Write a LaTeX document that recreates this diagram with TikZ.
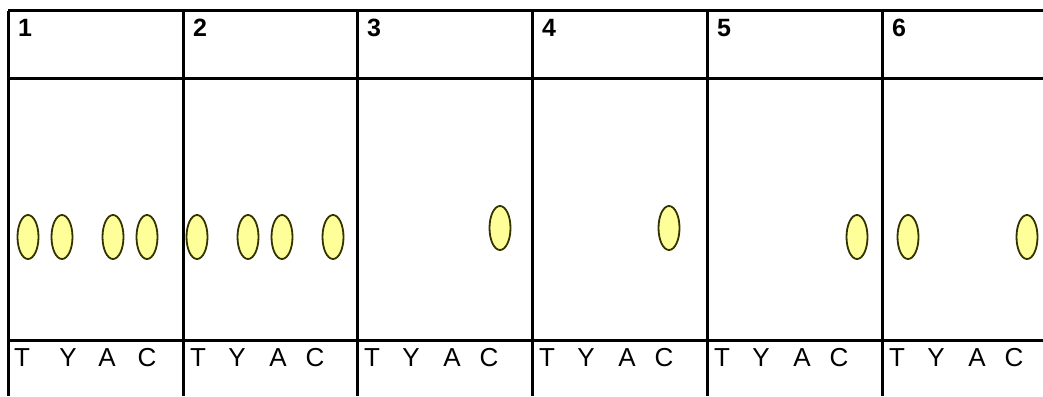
\documentclass[tikz,border=0pt]{standalone}
\usepackage{fontspec}
\setmainfont{Liberation Sans}
\usetikzlibrary{shapes.geometric}
\definecolor{dotfill}{HTML}{FFFF99}
\definecolor{dotline}{HTML}{333300}
\begin{document}
\begin{tikzpicture}[x=1pt,y=-1pt,
  grid/.style={line width=3pt,black},
  dot/.style={ellipse,draw=dotline,fill=dotfill,line width=1.8pt,minimum width=21pt,minimum height=44pt,inner sep=0pt},
  num/.style={anchor=base west,inner sep=0pt,font=\fontsize{25}{30}\selectfont\bfseries},
  base/.style={anchor=base,inner sep=0pt,font=\fontsize{26}{31}\selectfont}]
\useasboundingbox (0,0) rectangle (1043,396);
% grid lines
\draw[grid] (8,11) -- (1043,11);
\draw[grid] (8,78) -- (1043,78);
\draw[grid] (8,340) -- (1043,340);
\foreach \x in {8,183,357,532,707,882}{
  \draw[grid] (\x,11) -- (\x,396);
}
% panel numbers
\foreach \x/\n in {8/1,183/2,357/3,532/4,707/5,882/6}{
  \node[num] (n\n) at (\x+10,37) {\n};
}
% base labels
\node[base] (t1) at (22,366) {T};
\node[base] (y1) at (68,366) {Y};
\node[base] (a1) at (107,366) {A};
\node[base] (c1) at (147,366) {C};
\foreach \x/\n in {183/2,357/3,532/4,707/5,882/6}{
  \node[base] (t\n) at (\x+15,366) {T};
  \node[base] (y\n) at (\x+54,366) {Y};
  \node[base] (a\n) at (\x+95,366) {A};
  \node[base] (c\n) at (\x+132,366) {C};
}
% spots
\node[dot] (s1a) at (28,237) {};
\node[dot] (s1b) at (62,237) {};
\node[dot] (s1c) at (113,237) {};
\node[dot] (s1d) at (147,237) {};
\node[dot] (s2a) at (197,237) {};
\node[dot] (s2b) at (248,237) {};
\node[dot] (s2c) at (282,237) {};
\node[dot] (s2d) at (333,237) {};
\node[dot] (s3a) at (500,228) {};
\node[dot] (s4a) at (669,228) {};
\node[dot] (s5a) at (857,237) {};
\node[dot] (s6a) at (908,237) {};
\node[dot] (s6b) at (1027,237) {};
\end{tikzpicture}
\end{document}
